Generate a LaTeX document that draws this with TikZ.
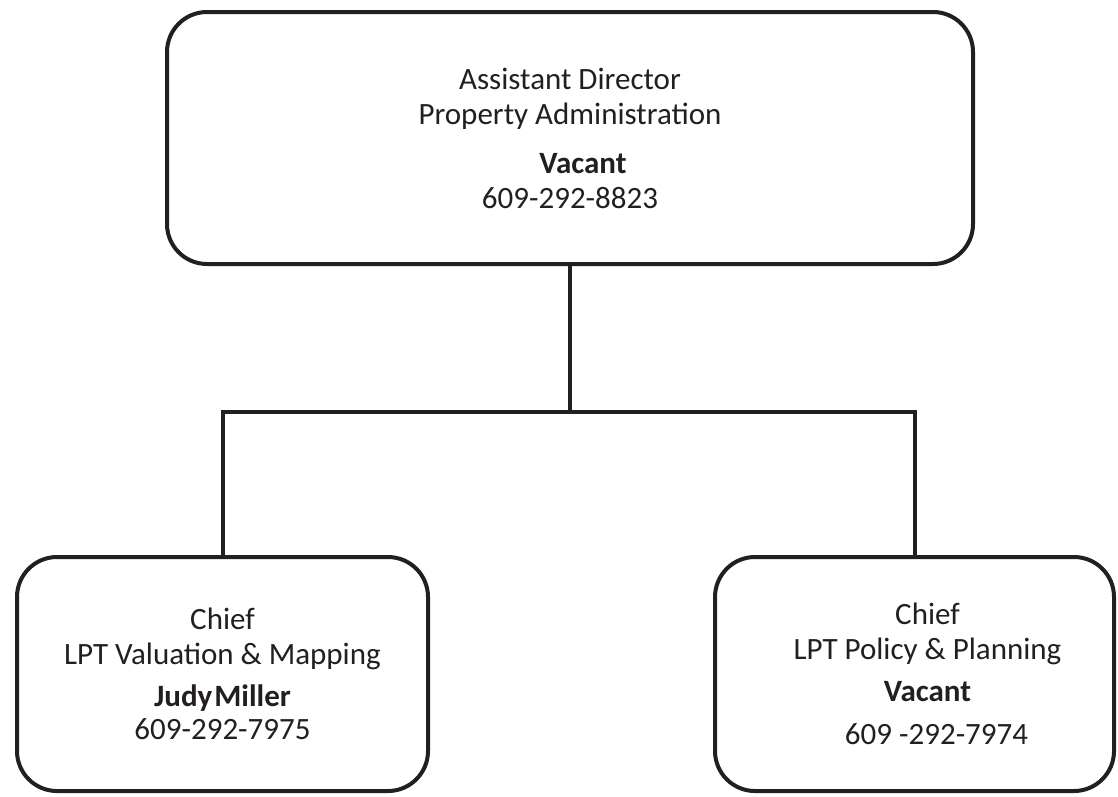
\documentclass[tikz,border=0pt]{standalone}
\usepackage{fontspec}
\setmainfont{Carlito}
\usepackage{xcolor}
\usepackage{tikz}
\definecolor{ink}{HTML}{231F20}
\tikzset{
  orgBox/.style={draw=ink, line width=4pt, rounded corners=40pt, rectangle,
    align=center, text=ink, inner sep=0pt,
    font=\fontsize{31}{35}\selectfont},
  link/.style={draw=ink, line width=4pt}
}

\begin{document}
\begin{tikzpicture}[x=1pt, y=-1pt]
  \useasboundingbox (0,0) rectangle (1118,796);

  \node[orgBox, minimum width=806pt, minimum height=252pt] (director) at (570,138)
    {Assistant Director\\Property Administration\\[14pt]
     \hspace*{26pt}\textbf{Vacant}\\609-292-8823};
  \node[orgBox, minimum width=411pt, minimum height=234pt] (valuation) at (222.5,674)
    {Chief\\LPT Valuation \& Mapping\\[7pt]
     \textbf{Judy\kern2pt Miller}\\[-2pt]609-292-7975};
  \node[orgBox, minimum width=399pt, minimum height=234pt] (policy) at (914.5,674)
    {\hspace*{26pt}Chief\\\hspace*{26pt}LPT Policy \& Planning\\[7pt]
     \hspace*{26pt}\textbf{Vacant}\\[8pt]\hspace*{44pt}609 -292-7974};

  \coordinate (bus) at (570,412);
  \draw[link] (director.south) -- (bus);
  \draw[link] (valuation.north) |- (bus) -| (policy.north);
\end{tikzpicture}
\end{document}
